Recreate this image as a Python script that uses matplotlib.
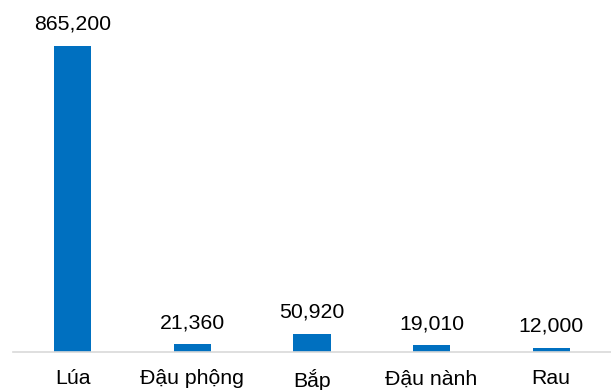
"""
    bar chart: cultivated area by crop
"""
import matplotlib.pyplot as plt

plt.rcParams['font.family'] = ['Liberation Sans', 'DejaVu Sans']

crops = ["Lúa", "Đậu phộng", "Bắp", "Đậu nành", "Rau"]
areas = [865200, 21360, 50920, 19010, 12000]

fig = plt.figure(figsize=(6.11, 3.9), dpi=100)
ax = fig.add_axes([13 / 611, 1 - 352 / 390, 1 - 13 / 611, 352 / 390])

x = range(len(crops))
bars = ax.bar(x, areas, width=0.31, color="#0070C0")

# value labels above each bar
for rect, val in zip(bars, areas):
    ax.annotate(f"{val:,}", (rect.get_x() + rect.get_width() / 2, rect.get_height()),
                xytext=(0, 15.5), textcoords="offset points",
                ha="center", va="center", fontsize=15.3, color="#000000")

ax.set_xlim(-0.5, len(crops) - 0.5)
ax.set_ylim(0, 865200 * 352 / 306)
ax.set_xticks(list(x))
ax.set_xticklabels(crops, fontsize=15.3)
ax.tick_params(axis="x", length=0, pad=12.5)
ax.set_yticks([])

for side in ["top", "left", "right"]:
    ax.spines[side].set_visible(False)
ax.spines["bottom"].set_color("#D9D9D9")
ax.spines["bottom"].set_linewidth(1.2)

fig.savefig("out.png", dpi=100)
